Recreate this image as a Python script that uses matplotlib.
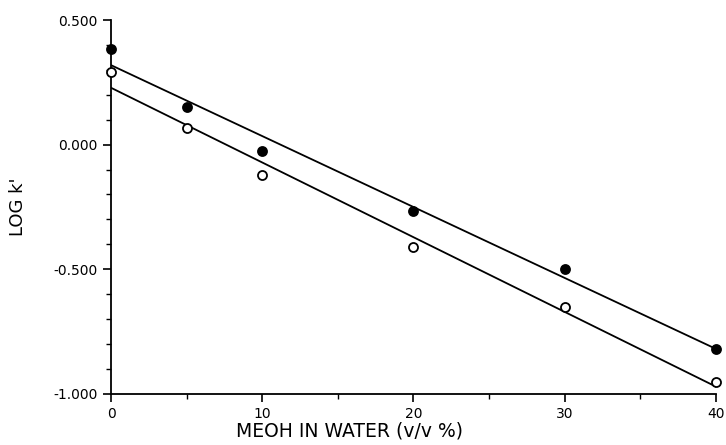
import matplotlib.pyplot as plt
from matplotlib.ticker import MultipleLocator, FormatStrFormatter
import numpy as np

meoh = [0, 5, 10, 20, 30, 40]
logk_filled = [0.384, 0.151, -0.025, -0.265, -0.499, -0.821]
logk_open = [0.291, 0.067, -0.122, -0.412, -0.652, -0.951]


def main():
    fig = plt.figure(figsize=(7.26, 4.45), dpi=100)
    ax = fig.add_axes([0.153, 0.115, 0.833, 0.840])

    xs = np.array([0, 40])
    for ys, face in [(logk_filled, 'black'), (logk_open, 'white')]:
        slope, icpt = np.polyfit(meoh, ys, 1)
        ax.plot(xs, icpt + slope * xs, color='black', lw=1.3, zorder=2)
        ax.plot(meoh, ys, 'o', ms=6.5, mfc=face, mec='black', mew=1.3,
                zorder=3, clip_on=False)

    ax.set_xlim(0, 40)
    ax.set_ylim(-1.0, 0.5)
    ax.xaxis.set_major_locator(MultipleLocator(10))
    ax.xaxis.set_minor_locator(MultipleLocator(5))
    ax.yaxis.set_major_locator(MultipleLocator(0.5))
    ax.yaxis.set_minor_locator(MultipleLocator(0.1))
    ax.yaxis.set_major_formatter(FormatStrFormatter('%.3f'))

    for s in ['top', 'right']:
        ax.spines[s].set_visible(False)
    for s in ['left', 'bottom']:
        ax.spines[s].set_linewidth(1.3)
    ax.tick_params(which='major', length=6, width=1.2, labelsize=10)
    ax.tick_params(which='minor', length=3.5, width=1.0)

    ax.set_xlabel('MEOH IN WATER (v/v %)', fontsize=13.5)
    ax.xaxis.set_label_coords(0.395, -0.075, transform=ax.transAxes)
    ax.xaxis.label.set_va('top')
    ax.set_ylabel("LOG k'", fontsize=13)
    ax.yaxis.set_label_coords(-0.139, 0.5, transform=ax.transAxes)

    fig.savefig('out.png', dpi=100)


main()
